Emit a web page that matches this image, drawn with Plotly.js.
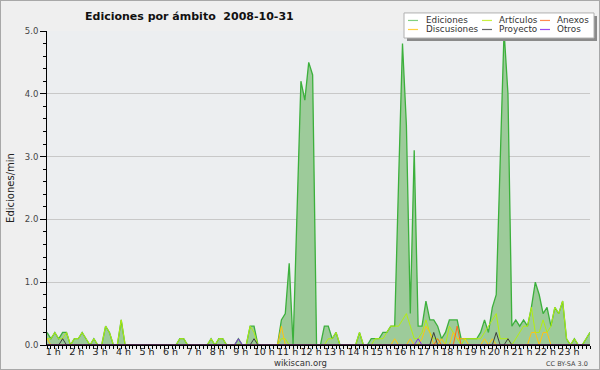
<!DOCTYPE html>
<html><head><meta charset="utf-8">
<script src="https://cdn.plot.ly/plotly-3.0.1.min.js"></script>
<style>html,body{margin:0;padding:0;background:#efefef}#c{width:598px;height:368px;border:1px solid #a8a8a8;background:#efefef}</style>
</head><body><div id="c"></div><script>
// 10-minute bins
const ediciones = [
0.2,0.1,0.2,0.1,0.2,0.2,0,0.1,0.1,0.2,
0.1,0,0.1,0,0,0.3,0.2,0,0,0.4,
0,0,0,0,0,0,0,0,0,0,
0,0,0,0,0.1,0.1,0,0,0,0,
0,0,0.1,0,0.1,0.1,0,0,0,0.1,
0,0,0.3,0.3,0,0,0,0,0,0,
0.4,0.5,1.3,0,2.1,4.2,3.9,4.5,4.3,0,
0,0.3,0.3,0.1,0.2,0,0,0,0,0,
0.2,0,0,0.1,0.1,0.1,0.2,0.2,0.3,0.3,
2.6,4.8,3.5,0.5,3.1,0.3,0.3,0.7,0.4,0.4,
0.3,0.1,0.2,0.4,0.4,0.4,0.1,0.1,0.1,0.1,
0.1,0.2,0.4,0.2,0.6,0.8,2.9,5.0,4.0,0.3,
0.4,0.3,0.4,0.3,0.6,1.0,0.8,0.5,0.6,0.3,
0.6,0.5,0.7,0.1,0,0.1,0,0,0.1,0.2];
const articulos = [
0.1,0.1,0.2,0.1,0.1,0.2,0,0.1,0.1,0.2,
0.1,0,0.1,0,0,0.3,0.2,0,0,0.4,
0,0,0,0,0,0,0,0,0,0,
0,0,0,0,0.1,0.1,0,0,0,0,
0,0,0.1,0,0.1,0.1,0,0,0,0,
0,0,0.3,0.2,0,0,0,0,0,0,
0.1,0.1,0,0,0,0,0,0,0,0,
0,0,0.1,0.1,0.2,0,0,0,0,0,
0.2,0,0,0,0.1,0.1,0.1,0.2,0.3,0.3,
0.3,0.4,0.5,0.3,0.1,0.1,0.2,0.4,0.2,0.1,
0.1,0,0,0.3,0.2,0.1,0,0.1,0.1,0.1,
0.1,0.1,0.2,0.3,0.4,0.5,0.1,0.1,0.1,0,
0.1,0.2,0.3,0.3,0.6,0.2,0.2,0.4,0.2,0.3,
0.6,0.5,0.7,0.1,0,0.1,0,0,0.1,0.2];
const discusiones = [
0.1,0,0,0,0,0,0,0,0,0,
0,0,0,0,0,0,0,0,0,0,
0,0,0,0,0,0,0,0,0,0,
0,0,0,0,0,0,0,0,0,0,
0,0,0,0,0,0,0,0,0,0,
0,0,0,0,0,0,0,0,0,0,
0.3,0,0,0,0,0,0,0,0,0,
0,0,0,0,0,0,0,0,0,0,
0,0,0,0,0,0,0,0,0,0.1,
0,0,0,0.1,0,0,0.1,0.3,0.2,0,
0,0.1,0,0,0.2,0.1,0.1,0.1,0,0,
0,0,0.1,0,0.1,0,0,0,0,0,
0,0,0,0,0.2,0.2,0,0.2,0.2,0,
0,0,0,0,0,0,0,0,0,0];
const anexos = [
0,0,0,0,0,0,0,0,0,0,
0,0,0,0,0,0,0,0,0,0,
0,0,0,0,0,0,0,0,0,0,
0,0,0,0,0,0,0,0,0,0,
0,0,0,0,0,0,0,0,0,0,
0,0,0,0,0,0,0,0,0,0,
0,0,0,0,0,0,0,0,0,0,
0,0,0,0,0,0,0,0,0,0,
0,0,0,0,0,0,0,0,0,0,
0,0,0,0,0,0,0,0,0,0,
0.1,0,0,0,0,0.3,0,0,0,0,
0,0,0,0,0,0,0,0,0,0,
0,0,0,0,0,0,0,0,0,0,
0,0,0,0,0,0,0,0,0,0];
const proyecto = [
0,0,0,0,0.1,0,0,0,0,0,
0,0,0,0,0,0,0,0,0,0,
0,0,0,0,0,0,0,0,0,0,
0,0,0,0,0,0,0,0,0,0,
0,0,0,0,0,0,0,0,0,0,
0,0,0,0.1,0,0,0,0,0,0,
0,0,0,0,0,0,0,0,0,0,
0,0,0,0,0,0,0,0,0,0,
0,0,0,0,0,0,0,0,0,0,
0,0,0,0,0,0,0,0,0,0.2,
0,0,0,0,0,0,0,0,0,0,
0,0,0,0,0,0.2,0,0,0.1,0,
0,0,0,0,0,0,0,0,0,0,
0,0,0,0,0,0,0,0,0,0];
const otros = [
0,0,0,0,0,0,0,0,0,0,
0,0,0,0,0,0,0,0,0,0,
0,0,0,0,0,0,0,0,0,0,
0,0,0,0,0,0,0,0,0,0,
0,0,0,0,0,0,0,0,0,0.1,
0,0,0,0,0,0,0,0,0,0,
0,0,0,0,0,0,0,0,0,0,
0,0,0,0,0,0,0,0,0,0,
0,0,0,0,0,0,0,0,0,0,
0,0,0,0,0,0.1,0,0,0,0,
0,0,0,0,0,0,0,0,0,0,
0,0,0,0,0,0,0,0,0,0,
0,0,0,0,0,0,0,0,0,0,
0,0,0,0,0,0,0,0,0,0];
const hours = [1,2,3,4,5,6,7,8,9,10,11,12,13,14,15,16,17,18,19,20,21,22,23];
const hourLabels = hours.map(h => h + ' h');
const seriesColors = {Ediciones:'#3cb03c',Artículos:'#b4ee10',Anexos:'#ff6a1a',Discusiones:'#ffc410',Proyecto:'#3c3c3c',Otros:'#8a2be2'};
const legendColors = {Ediciones:'#80d080',Artículos:'#c8f040',Anexos:'#ff8a50',Discusiones:'#ffd040',Proyecto:'#666666',Otros:'#9a4af0'};

const idx = ediciones.map((_, i) => i);
const FONT = 'DejaVu Sans';
function tr(name, y, extra) {
  return Object.assign({x: idx, y: y, name: name, type: 'scatter', mode: 'lines',
    line: {color: seriesColors[name], width: 1}, hoverinfo: 'skip'}, extra || {});
}
const data = [
  tr('Ediciones', ediciones, {fill: 'tozeroy', fillcolor: '#9dcb9a', line: {color: seriesColors['Ediciones'], width: 1.3}}),
  tr('Artículos', articulos),
  tr('Discusiones', discusiones),
  tr('Anexos', anexos),
  tr('Proyecto', proyecto),
  tr('Otros', otros)
];

const PX0 = 47, PX1 = 590, PY0 = 31, PY1 = 344;
const px = v => (v - PX0) / (PX1 - PX0);
const py = v => (PY1 - v) / (PY1 - PY0);

const shapes = [
  {type:'line', xref:'paper', yref:'y', x0:0, x1:1, y0:0, y1:0, line:{color:'#000', width:1.2}, layer:'above'},
  {type:'rect', xref:'paper', yref:'paper', x0:px(407), x1:px(597), y0:py(16), y1:py(41), fillcolor:'#8a8a8a', line:{width:0}, layer:'above'},
  {type:'rect', xref:'paper', yref:'paper', x0:px(404), x1:px(594), y0:py(13), y1:py(38), fillcolor:'#ffffff', line:{color:'#b0b0b0', width:1}, layer:'above'}
];
const annotations = [];
const cols = [[408, 424], [482, 497], [540, 555]];
const rows = [20.5, 29.5];
const legendOrder = [['Ediciones','Artículos','Anexos'],['Discusiones','Proyecto','Otros']];
legendOrder.forEach((row, r) => row.forEach((name, c) => {
  shapes.push({type:'line', xref:'paper', yref:'paper', x0:px(cols[c][0]), x1:px(cols[c][0]+10), y0:py(rows[r]), y1:py(rows[r]), line:{color:legendColors[name], width:1.2}, layer:'above'});
  annotations.push({xref:'paper', yref:'paper', x:px(cols[c][1]), y:py(rows[r]), xanchor:'left', yanchor:'middle', showarrow:false, text:name, font:{family:FONT, size:8.8, color:'#333'}});
}));
annotations.push({xref:'paper', yref:'paper', x:px(300), y:py(362), xanchor:'center', yanchor:'middle', showarrow:false, text:'wikiscan.org', font:{family:FONT, size:8.5, color:'#333'}});
annotations.push({xref:'paper', yref:'paper', x:px(590), y:py(362.5), xanchor:'right', yanchor:'middle', showarrow:false, text:'CC BY-SA 3.0', font:{family:FONT, size:6.5, color:'#444'}});

const layout = {
  width: 598, height: 368,
  margin: {l: 46, r: 9, t: 30, b: 24, pad: 0},
  paper_bgcolor: '#efefef', plot_bgcolor: '#eceef0',
  showlegend: false,
  title: {text: 'Ediciones por ámbito  2008-10-31', x: 84/598, xanchor: 'left', xref: 'container', y: 1 - 15/368, yanchor: 'middle', yref: 'container', font: {family: FONT, size: 11, weight: 'bold', color: '#111'}},
  xaxis: {range: [0, 139], showline: true, linecolor: '#000', linewidth: 1, showgrid: false, zeroline: false,
    tickmode: 'array', tickvals: hours.map(h => 6*h - 4.4), ticktext: hourLabels, ticks: '', ticklen: 0, tickangle: 0,
    ticklabelstandoff: -2,
    tickfont: {family: FONT, size: 9.5, color: '#222'},
    minor: {tickmode: 'linear', tick0: 0, dtick: 1, ticks: 'outside', ticklen: 3, tickcolor: '#000', showgrid: false}},
  yaxis: {range: [0, 5], showline: true, linecolor: '#000', linewidth: 1, zeroline: false,
    dtick: 1, tickformat: '.1f', ticks: 'outside', ticklen: 6, tickcolor: '#000',
    showgrid: true, gridcolor: '#c8c8c8', gridwidth: 1,
    tickfont: {family: FONT, size: 8.5, color: '#444'},
    minor: {dtick: 0.2, ticks: 'outside', ticklen: 3, tickcolor: '#000', showgrid: false},
    title: {text: 'Ediciones/min', font: {family: FONT, size: 10, color: '#222'}, standoff: 8}},
  shapes: shapes,
  annotations: annotations
};
Plotly.newPlot('c', data, layout, {displayModeBar: false, staticPlot: true});
</script></body></html>
